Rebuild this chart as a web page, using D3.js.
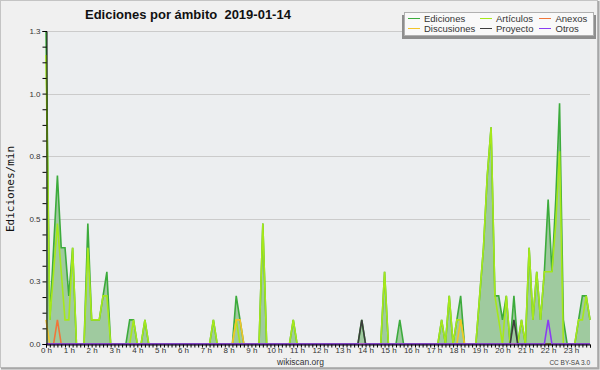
<!DOCTYPE html>
<html>
<head>
<meta charset="utf-8">
<script src="https://cdn.jsdelivr.net/npm/d3@7"></script>
<style>
body{margin:0;background:#f0f0f0;}
text{font-family:"Liberation Sans",Arial,sans-serif;}
</style>
</head>
<body>
<svg width="600" height="370"></svg>
<script>
// edits per minute, one value every 10 minutes (00:00 .. 23:50)
var ediciones = [
  1.3,0.1,0.4,0.7,0.4,0.4,0.2,0.4,0,0,0,0.5,
  0.1,0.1,0.1,0.2,0.3,0,0,0,0,0,0.1,0.1,
  0,0,0.1,0,0,0,0,0,0,0,0,0,
  0,0,0,0,0,0,0,0,0.1,0,0,0,
  0,0,0.2,0.1,0,0,0,0,0,0.5,0,0,
  0,0,0,0,0,0.1,0,0,0,0,0,0,
  0,0,0,0,0,0,0,0,0,0,0,0.1,
  0,0,0,0,0,0.3,0,0,0,0.1,0,0,
  0,0,0,0,0,0,0,0,0.1,0,0.2,0,
  0.1,0.2,0,0,0,0,0.2,0.4,0.7,0.9,0.2,0.2,
  0.1,0.2,0,0.2,0,0.1,0,0.4,0.1,0.3,0.1,0.3,
  0.6,0.3,0.6,1.0,0.1,0,0,0,0.1,0.2,0.2,0.1
];
var articulos = [
  1.2,0.1,0.3,0.5,0.3,0.1,0.1,0.4,0,0,0,0.4,
  0.1,0.1,0.1,0.2,0.2,0,0,0,0,0,0,0.1,
  0,0,0.1,0,0,0,0,0,0,0,0,0,
  0,0,0,0,0,0,0,0,0.1,0,0,0,
  0,0,0.1,0,0,0,0,0,0,0.5,0,0,
  0,0,0,0,0,0.1,0,0,0,0,0,0,
  0,0,0,0,0,0,0,0,0,0,0,0,
  0,0,0,0,0,0.3,0,0,0,0,0,0,
  0,0,0,0,0,0,0,0,0.1,0,0.2,0,
  0.1,0.1,0,0,0,0,0.2,0.4,0.7,0.9,0.2,0.1,
  0,0.2,0,0,0,0.1,0,0.4,0.1,0.3,0.1,0.3,
  0.3,0.3,0.5,0.8,0,0,0,0,0.1,0.1,0.2,0.1
];
var anexos = [
  0,0,0,0.1,0,0,0,0,0,0,0,0,
  0,0,0,0,0,0,0,0,0,0,0,0,
  0,0,0,0,0,0,0,0,0,0,0,0,
  0,0,0,0,0,0,0,0,0,0,0,0,
  0,0,0,0,0,0,0,0,0,0,0,0,
  0,0,0,0,0,0,0,0,0,0,0,0,
  0,0,0,0,0,0,0,0,0,0,0,0,
  0,0,0,0,0,0,0,0,0,0,0,0,
  0,0,0,0,0,0,0,0,0,0,0,0,
  0,0,0,0,0,0,0,0,0,0,0,0,
  0,0,0,0,0,0,0,0,0,0,0,0,
  0,0,0,0,0,0,0,0,0,0,0,0
];
var discusiones = [
  0.1,0,0,0,0,0,0,0,0,0,0,0,
  0,0,0,0,0,0,0,0,0,0,0,0,
  0,0,0,0,0,0,0,0,0,0,0,0,
  0,0,0,0,0,0,0,0,0,0,0,0,
  0,0,0.1,0.1,0,0,0,0,0,0,0,0,
  0,0,0,0,0,0,0,0,0,0,0,0,
  0,0,0,0,0,0,0,0,0,0,0,0,
  0,0,0,0,0,0,0,0,0,0,0,0,
  0,0,0,0,0,0,0,0,0,0,0,0,
  0,0.1,0,0,0,0,0,0,0,0,0,0,
  0,0,0,0,0,0,0,0,0,0,0,0,
  0,0,0,0,0,0,0,0,0,0,0,0
];
var proyecto = [
  0,0,0,0,0,0,0,0,0,0,0,0,
  0,0,0,0,0,0,0,0,0,0,0,0,
  0,0,0,0,0,0,0,0,0,0,0,0,
  0,0,0,0,0,0,0,0,0,0,0,0,
  0,0,0,0,0,0,0,0,0,0,0,0,
  0,0,0,0,0,0,0,0,0,0,0,0,
  0,0,0,0,0,0,0,0,0,0,0,0.1,
  0,0,0,0,0,0,0,0,0,0,0,0,
  0,0,0,0,0,0,0,0,0,0,0,0,
  0,0,0,0,0,0,0,0,0,0,0,0,
  0,0,0,0.1,0,0,0,0,0,0,0,0,
  0,0,0,0,0,0,0,0,0,0,0,0
];
var otros = [
  0,0,0,0,0,0,0,0,0,0,0,0,
  0,0,0,0,0,0,0,0,0,0,0,0,
  0,0,0,0,0,0,0,0,0,0,0,0,
  0,0,0,0,0,0,0,0,0,0,0,0,
  0,0,0,0,0,0,0,0,0,0,0,0,
  0,0,0,0,0,0,0,0,0,0,0,0,
  0,0,0,0,0,0,0,0,0,0,0,0,
  0,0,0,0,0,0,0,0,0,0,0,0,
  0,0,0,0,0,0,0,0,0,0,0,0,
  0,0,0,0,0,0,0,0,0,0,0,0,
  0,0,0,0,0,0,0,0,0,0,0,0,
  0.1,0,0,0,0,0,0,0,0,0,0,0
];

var hourLabels = ["0 h","1 h","2 h","3 h","4 h","5 h","6 h","7 h","8 h","9 h","10 h","11 h",
  "12 h","13 h","14 h","15 h","16 h","17 h","18 h","19 h","20 h","21 h","22 h","23 h"];
var yLabels = ["0.0","0.3","0.5","0.8","1.0","1.3"];
var yMax = 1.3;

var series = [
  {name:"Ediciones",   values:ediciones,   color:"#3cab3c"},
  {name:"Artículos",   values:articulos,   color:"#a6e81a"},
  {name:"Anexos",      values:anexos,      color:"#f0763a"},
  {name:"Discusiones", values:discusiones, color:"#f2c52a"},
  {name:"Proyecto",    values:proyecto,    color:"#3c3c3c"},
  {name:"Otros",       values:otros,       color:"#8a3cf2"}
];

var svg = d3.select("svg");
var x = d3.scaleLinear().domain([0, ediciones.length-1]).range([46, 590]);
var y = d3.scaleLinear().domain([0, yMax]).range([344, 31]);

// frame
svg.append("rect").attr("x",0.5).attr("y",0.5).attr("width",597).attr("height",367)
  .attr("fill","#f0f0f0").attr("stroke","#c4c4c4");
svg.append("path").attr("d","M1,368.5H598.5V1").attr("fill","none").attr("stroke","#a8a8a8").attr("stroke-width",2);

// plot background + grid
svg.append("rect").attr("x",46).attr("y",31).attr("width",544).attr("height",313).attr("fill","#eceef0");
var majorTicks = yLabels.map(function(d,i){ return i*yMax/(yLabels.length-1); });
svg.selectAll(".grid").data(majorTicks.slice(1)).enter().append("line")
  .attr("x1",46).attr("x2",590)
  .attr("y1",function(d){return Math.round(y(d))+0.5;})
  .attr("y2",function(d){return Math.round(y(d))+0.5;})
  .attr("stroke","#cbcbcb");

// area of total edits
var area = d3.area().x(function(d,i){return x(i);}).y0(y(0)).y1(function(d){return y(d);});
svg.append("path").datum(ediciones).attr("d",area).attr("fill","#9fca9f");

var line = d3.line().x(function(d,i){return x(i);}).y(function(d){return y(d);});
series.forEach(function(s){
  svg.append("path").datum(s.values).attr("d",line)
    .attr("fill","none").attr("stroke",s.color).attr("stroke-width",1.6);
});

// axes
var yMinor = d3.range(21).map(function(k){ return k*yMax/20; });
var yAxis = d3.axisLeft(y).tickValues(yMinor).tickSize(4).tickPadding(2)
  .tickFormat(function(d,k){ return k%4===0 ? yLabels[k/4] : ""; });
var gy = svg.append("g").attr("transform","translate(46.5,0)").call(yAxis);

var xAxis = d3.axisBottom(x).tickValues(d3.range(ediciones.length)).tickSize(3)
  .tickFormat(function(d){ return d%6===0 ? hourLabels[d/6] : ""; });
var gx = svg.append("g").attr("transform","translate(0,344.5)").call(xAxis);

[gx, gy].forEach(function(g){
  g.select(".domain").attr("stroke","#000");
  g.selectAll(".tick line").attr("stroke","#000");
  g.selectAll(".tick text").attr("fill","#333").style("font-size","8px")
    .style("font-family","'Liberation Sans',Arial,sans-serif");
});
gx.selectAll(".tick text").attr("y",3);

// titles
svg.append("text").attr("x",85).attr("y",18.5).attr("font-weight","bold")
  .style("font-size","13px").style("white-space","pre").attr("fill","#111")
  .text("Ediciones por ámbito  2019-01-14");
svg.append("text").attr("transform","translate(14,189) rotate(-90)").attr("text-anchor","middle")
  .style("font-family","'DejaVu Sans Mono',monospace").style("font-size","11px").attr("fill","#111")
  .text("Ediciones/min");
svg.append("text").attr("x",300.5).attr("y",364.5).attr("text-anchor","middle")
  .style("font-size","8.5px").attr("fill","#333").text("wikiscan.org");
svg.append("text").attr("x",590).attr("y",364.5).attr("text-anchor","end")
  .style("font-size","6.5px").attr("fill","#444").text("CC BY-SA 3.0");

// legend
var lg = svg.append("g");
lg.append("rect").attr("x",402).attr("y",15).attr("width",194).attr("height",24).attr("fill","#8e8e8e");
lg.append("rect").attr("x",404.5).attr("y",12.5).attr("width",189).attr("height",23)
  .attr("fill","#f9f9f9").attr("stroke","#b0b0b0");
var colX = [408, 480, 539];
var textX = [424, 496, 555.5];
var item = lg.selectAll(".item").data(series).enter().append("g");
item.append("line")
  .attr("x1",function(d,i){return colX[i%3];})
  .attr("x2",function(d,i){return colX[i%3]+12;})
  .attr("y1",function(d,i){return i<3 ? 18.5 : 28.5;})
  .attr("y2",function(d,i){return i<3 ? 18.5 : 28.5;})
  .attr("stroke",function(d){return d.color;}).attr("stroke-width",1);
item.append("text")
  .attr("x",function(d,i){return textX[i%3];})
  .attr("y",function(d,i){return i<3 ? 22 : 32;})
  .style("font-size","9.5px").attr("fill","#333")
  .text(function(d){return d.name;});
</script>
</body>
</html>
